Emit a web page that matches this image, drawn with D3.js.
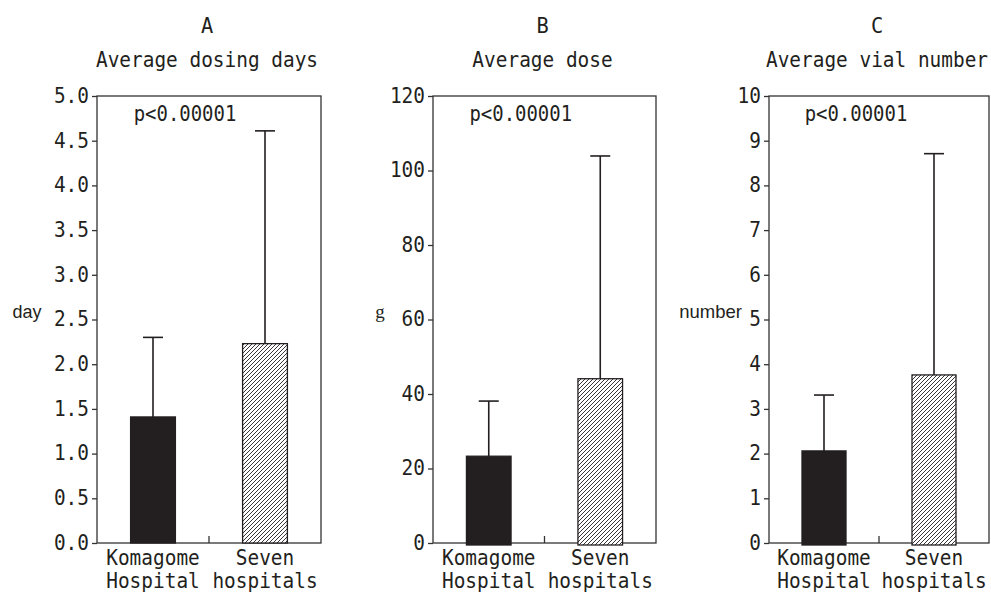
<!DOCTYPE html>
<html>
<head>
<meta charset="utf-8">
<script src="https://cdn.jsdelivr.net/npm/d3@7"></script>
<style>
  body { margin: 0; background: #fff; }
  svg text { fill: #231f20; }
</style>
</head>
<body>
<div id="chart"></div>
<script>
const WIDTH = 991;
const HEIGHT = 595;

// data
const categoryLines = [["Komagome", "Hospital"], ["Seven", "hospitals"]];
const panelLetters = ["A", "B", "C"];
const panelTitles = ["Average dosing days", "Average dose", "Average vial number"];
const yLabels = ["day", "g", "number"];
const pTexts = ["p<0.00001", "p<0.00001", "p<0.00001"];

const daysMean = [1.41, 2.23];
const daysSD = [0.89, 2.38];
const doseMean = [23.3, 44.1];
const doseSD = [14.8, 59.8];
const vialMean = [2.06, 3.76];
const vialSD = [1.25, 4.95];

const yMax = [5, 120, 10];
const yStep = [0.5, 20, 1];
const yFormat = [".1f", "d", "d"];

// layout
const boxLeft = [97, 433, 769];
const boxRight = [321, 656, 989];
const boxTop = 96;
const boxBottom = 543;
const INK = "#231f20";
const MONO = "'DejaVu Sans Mono', 'Liberation Mono', monospace";
const SQUEEZE = 0.925;   // gothic mono glyphs are narrow and tall

var svg = d3.select('#chart')
    .append('svg')
    .attr('width', WIDTH)
    .attr('height', HEIGHT);

var defs = svg.append('defs');
var pat = defs.append('pattern')
    .attr('id', 'hatch')
    .attr('patternUnits', 'userSpaceOnUse')
    .attr('width', 4)
    .attr('height', 4);
pat.append('rect').attr('width', 4).attr('height', 4).attr('fill', '#fff');
pat.append('path')
    .attr('d', 'M-1,1 L1,-1 M0,4 L4,0 M3,5 L5,3')
    .attr('stroke', INK)
    .attr('stroke-width', 0.9);

const means = [daysMean, doseMean, vialMean];
const sds = [daysSD, doseSD, vialSD];

function monoText(parent, x, y, str, size, anchor) {
    return parent.append('text')
        .attr('transform', `translate(${x},${y}) scale(${SQUEEZE},1)`)
        .attr('text-anchor', anchor || 'middle')
        .style('font-family', MONO)
        .style('font-size', size + 'px')
        .text(str);
}

function drawPanel(p) {
    let g = svg.append('g');

    let x = d3.scaleBand()
        .domain([0, 1])
        .range([boxLeft[p], boxRight[p]])
        .paddingInner(0.6)
        .paddingOuter(0.3);

    let y = d3.scaleLinear()
        .domain([0, yMax[p]])
        .range([boxBottom, boxTop]);

    let center = (boxLeft[p] + boxRight[p]) / 2;

    // titles
    monoText(g, center - 2, 33, panelLetters[p], 22);
    monoText(g, center - 2, 67, panelTitles[p], 21);

    // frame
    g.append('rect')
        .attr('x', boxLeft[p])
        .attr('y', boxTop)
        .attr('width', boxRight[p] - boxLeft[p])
        .attr('height', boxBottom - boxTop)
        .attr('fill', 'none')
        .attr('stroke', '#333')
        .attr('stroke-width', 1.3);

    // y axis
    let ticks = d3.range(0, yMax[p] + yStep[p] / 2, yStep[p]);
    let yAxis = d3.axisLeft(y)
        .tickValues(ticks)
        .tickFormat(d3.format(yFormat[p]))
        .tickSize(5)
        .tickPadding(3);
    let ax = g.append('g')
        .attr('transform', `translate(${boxLeft[p]},0)`)
        .call(yAxis);
    ax.select('.domain').remove();
    ax.selectAll('line').attr('stroke', '#333').attr('stroke-width', 1.3);
    ax.selectAll('text')
        .attr('x', -8 / SQUEEZE)
        .attr('dy', '0.3em')
        .attr('transform', `scale(${SQUEEZE},1)`)
        .style('font-family', MONO)
        .style('font-size', '21px')
        .style('fill', INK);

    // middle tick on baseline
    let mid = x(1) - x.step() / 2 + x.bandwidth() / 2;
    g.append('line')
        .attr('x1', mid)
        .attr('x2', mid)
        .attr('y1', boxBottom)
        .attr('y2', boxBottom - 7)
        .attr('stroke', '#333')
        .attr('stroke-width', 1.3);

    let data = means[p].map((m, i) => ({ i: i, mean: m, sd: sds[p][i] }));

    // error bars (upper only)
    let capW = 20;
    data.forEach(d => {
        let cx = x(d.i) + x.bandwidth() / 2;
        g.append('line')
            .attr('x1', cx).attr('x2', cx)
            .attr('y1', y(d.mean)).attr('y2', y(d.mean + d.sd))
            .attr('stroke', INK).attr('stroke-width', 1.6);
        g.append('line')
            .attr('x1', cx - capW / 2).attr('x2', cx + capW / 2)
            .attr('y1', y(d.mean + d.sd)).attr('y2', y(d.mean + d.sd))
            .attr('stroke', INK).attr('stroke-width', 1.6);
    });

    // bars
    g.selectAll('rect.bar')
        .data(data)
        .enter()
        .append('rect')
        .attr('class', 'bar')
        .attr('x', d => x(d.i))
        .attr('y', d => y(d.mean))
        .attr('width', x.bandwidth())
        .attr('height', d => y(0) - y(d.mean) + (p > 0 ? 2 : 0))
        .attr('fill', d => d.i == 0 ? INK : 'url(#hatch)')
        .attr('stroke', INK)
        .attr('stroke-width', 1.3);

    // p value
    monoText(g, x(0) + x.bandwidth() / 2 + 32, 121, pTexts[p], 20.5);

    // category labels
    categoryLines.forEach((lines, i) => {
        let cx = x(i) + x.bandwidth() / 2;
        lines.forEach((s, k) => {
            monoText(g, cx, 565 + 23 * k, s, 21);
        });
    });
}

for (let p = 0; p < 3; p++) {
    drawPanel(p);
}

// y axis labels
svg.append('text')
    .attr('x', 27).attr('y', 318)
    .attr('text-anchor', 'middle')
    .style('font-family', "'Liberation Sans', Arial, sans-serif")
    .style('font-size', '18px')
    .text(yLabels[0]);
svg.append('text')
    .attr('x', 380).attr('y', 318)
    .attr('text-anchor', 'middle')
    .style('font-family', "'Liberation Serif', serif")
    .style('font-size', '19px')
    .text(yLabels[1]);
svg.append('text')
    .attr('x', 742).attr('y', 318)
    .attr('text-anchor', 'end')
    .style('font-family', "'Liberation Sans', Arial, sans-serif")
    .style('font-size', '18.5px')
    .text(yLabels[2]);
</script>
</body>
</html>
